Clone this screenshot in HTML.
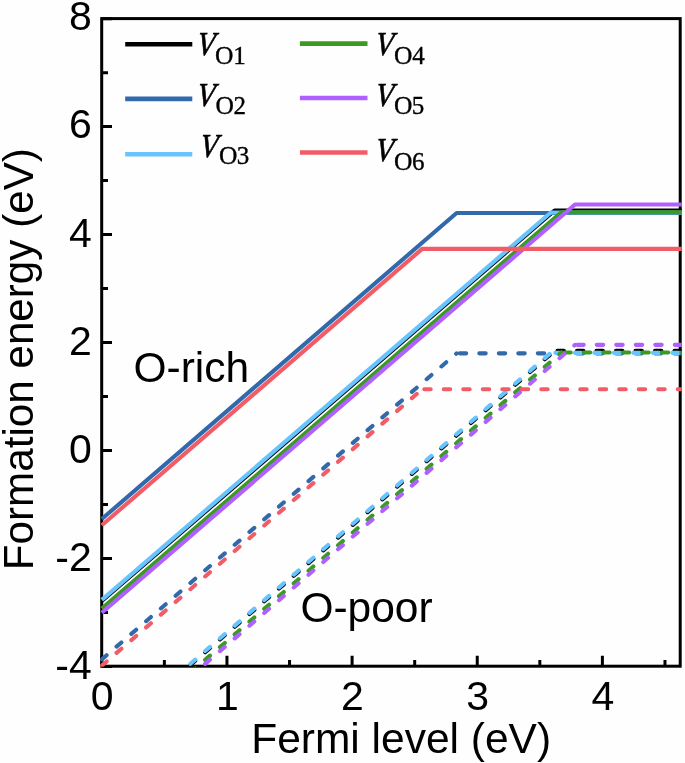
<!DOCTYPE html>
<html><head><meta charset="utf-8"><style>
html,body{margin:0;padding:0;background:#fefefe;}
#w{width:685px;height:763px;will-change:transform;}
svg{display:block;}
text{font-family:"Liberation Sans",sans-serif;fill:#000;}
.tl{font-size:41px;}
.al{font-size:42.5px;}
.lv{font-family:"Liberation Serif",serif;font-style:italic;font-size:33.5px;stroke:#000;stroke-width:0.7px;}
.lo{font-family:"Liberation Serif",serif;font-size:25.5px;stroke:#000;stroke-width:0.35px;}
.ld{font-family:"Liberation Serif",serif;font-size:25px;stroke:#000;stroke-width:0.35px;}
</style></head><body><div id="w">
<svg width="685" height="763" viewBox="0 0 685 763">
<rect width="685" height="763" fill="#fefefe"/>
<defs><clipPath id="c"><rect x="100.2" y="17" width="581.5" height="649.8"/></clipPath></defs>
<g fill="none" stroke="#000" stroke-width="3">
<rect x="101.7" y="18.6" width="578.5" height="647.6" stroke-linejoin="miter"/>
<path d="M101.70,666.42h10.3 M101.70,612.44h6.3 M101.70,558.46h10.3 M101.70,504.48h6.3 M101.70,450.50h10.3 M101.70,396.52h6.3 M101.70,342.54h10.3 M101.70,288.56h6.3 M101.70,234.58h10.3 M101.70,180.60h6.3 M101.70,126.62h10.3 M101.70,72.64h6.3 M101.70,18.66h10.3 M101.80,666.20v-10.4 M164.38,666.20v-6.2 M226.95,666.20v-10.4 M289.53,666.20v-6.2 M352.10,666.20v-10.4 M414.68,666.20v-6.2 M477.25,666.20v-10.4 M539.83,666.20v-6.2 M602.40,666.20v-10.4 M664.98,666.20v-6.2"/>
</g>
<g clip-path="url(#c)" fill="none" stroke-width="4.1" stroke-linejoin="round">
<path d="M101.80,741.40 L554.59,350.80" stroke="#000000" stroke-dasharray="6.4 13.1" stroke-linecap="round"/>
<path d="M554.59,350.80 L690.00,350.80" stroke="#000000" stroke-dasharray="6.4 13.1" stroke-dashoffset="-2.9" stroke-linecap="round"/>
<path d="M101.80,659.40 L456.60,353.34" stroke="#3169ab" stroke-dasharray="6.4 13.1" stroke-linecap="round"/>
<path d="M456.60,353.34 L690.00,353.34" stroke="#3169ab" stroke-dasharray="6.4 13.1" stroke-dashoffset="-3.2" stroke-linecap="round"/>
<path d="M101.80,740.21 L550.84,352.85" stroke="#68c4fc" stroke-dasharray="6.4 13.1" stroke-linecap="round"/>
<path d="M550.84,352.85 L690.00,352.85" stroke="#68c4fc" stroke-dasharray="6.4 13.1" stroke-dashoffset="-4.5" stroke-linecap="round"/>
<path d="M101.80,749.01 L561.41,352.53" stroke="#3a9a22" stroke-dasharray="6.4 13.1" stroke-linecap="round"/>
<path d="M561.41,352.53 L690.00,352.53" stroke="#3a9a22" stroke-dasharray="6.4 13.1" stroke-dashoffset="-2.9" stroke-linecap="round"/>
<path d="M101.80,753.06 L574.99,344.86" stroke="#b060ff" stroke-dasharray="6.4 13.1" stroke-linecap="round"/>
<path d="M574.99,344.86 L690.00,344.86" stroke="#b060ff" stroke-dasharray="6.4 13.1" stroke-dashoffset="-2.3" stroke-linecap="round"/>
<path d="M101.80,665.61 L422.18,389.23" stroke="#f25c66" stroke-dasharray="6.4 13.1" stroke-linecap="round"/>
<path d="M422.18,389.23 L690.00,389.23" stroke="#f25c66" stroke-dasharray="6.4 13.1" stroke-dashoffset="-2.1" stroke-linecap="round"/>
<path d="M101.80,601.05 L554.59,210.45 L690.00,210.45" stroke="#000000"/>
<path d="M101.80,519.05 L456.60,212.99 L690.00,212.99" stroke="#3169ab"/>
<path d="M101.80,599.86 L550.84,212.50 L690.00,212.50" stroke="#68c4fc"/>
<path d="M101.80,608.66 L561.41,212.18 L690.00,212.18" stroke="#3a9a22"/>
<path d="M101.80,612.71 L574.99,204.51 L690.00,204.51" stroke="#b060ff"/>
<path d="M101.80,525.26 L422.18,248.88 L690.00,248.88" stroke="#f25c66"/>
</g>
<g class="tl">
<text x="91.8" y="29.60" text-anchor="end">8</text>
<text x="91.8" y="137.80" text-anchor="end">6</text>
<text x="91.8" y="247.00" text-anchor="end">4</text>
<text x="91.8" y="355.20" text-anchor="end">2</text>
<text x="91.8" y="463.10" text-anchor="end">0</text>
<text x="91.8" y="571.00" text-anchor="end">-2</text>
<text x="91.8" y="679.00" text-anchor="end">-4</text>
<text x="102.20" y="709.7" text-anchor="middle">0</text>
<text x="227.35" y="709.7" text-anchor="middle">1</text>
<text x="352.50" y="709.7" text-anchor="middle">2</text>
<text x="477.65" y="709.7" text-anchor="middle">3</text>
<text x="602.80" y="709.7" text-anchor="middle">4</text>
</g>
<text class="al" x="251.2" y="753.1">Fermi level (eV)</text>
<text class="al" style="font-size:42.2px" transform="translate(33,570.2) rotate(-90)">Formation energy (eV)</text>
<text class="al" x="133.5" y="381.8">O-rich</text>
<text class="al" x="300.4" y="621.8">O-poor</text>
<g fill="none">
<path d="M125.2,44.2h67.1" stroke="#000000" stroke-width="4.6"/>
<text class="lv" transform="translate(196.52,55.10) skewX(-5.7) scale(0.863,1)">V</text>
<text class="lo" x="214.98" y="63.70">O</text>
<text class="ld" x="233.25" y="63.70">1</text>
<path d="M125.2,98.9h67.1" stroke="#3169ab" stroke-width="4.6"/>
<text class="lv" transform="translate(196.52,105.70) skewX(-5.7) scale(0.863,1)">V</text>
<text class="lo" x="215.48" y="114.00">O</text>
<text class="ld" x="233.47" y="114.00">2</text>
<path d="M125.2,154.3h67.1" stroke="#68c4fc" stroke-width="4.6"/>
<text class="lv" transform="translate(199.62,156.80) skewX(-5.7) scale(0.863,1)">V</text>
<text class="lo" x="218.98" y="163.90">O</text>
<text class="ld" x="236.65" y="163.90">3</text>
<path d="M299.9,43.6h67.6" stroke="#3a9a22" stroke-width="4.6"/>
<text class="lv" transform="translate(375.02,55.10) skewX(-5.7) scale(0.863,1)">V</text>
<text class="lo" x="393.98" y="63.70">O</text>
<text class="ld" x="412.20" y="63.70">4</text>
<path d="M299.9,98.0h67.6" stroke="#b060ff" stroke-width="4.6"/>
<text class="lv" transform="translate(375.02,105.70) skewX(-5.7) scale(0.863,1)">V</text>
<text class="lo" x="393.98" y="114.00">O</text>
<text class="ld" x="411.80" y="114.00">5</text>
<path d="M299.9,152.5h67.6" stroke="#f25c66" stroke-width="4.6"/>
<text class="lv" transform="translate(375.02,161.00) skewX(-5.7) scale(0.863,1)">V</text>
<text class="lo" x="393.98" y="169.50">O</text>
<text class="ld" x="411.98" y="169.50">6</text>
</g>
</svg>
</div></body></html>
